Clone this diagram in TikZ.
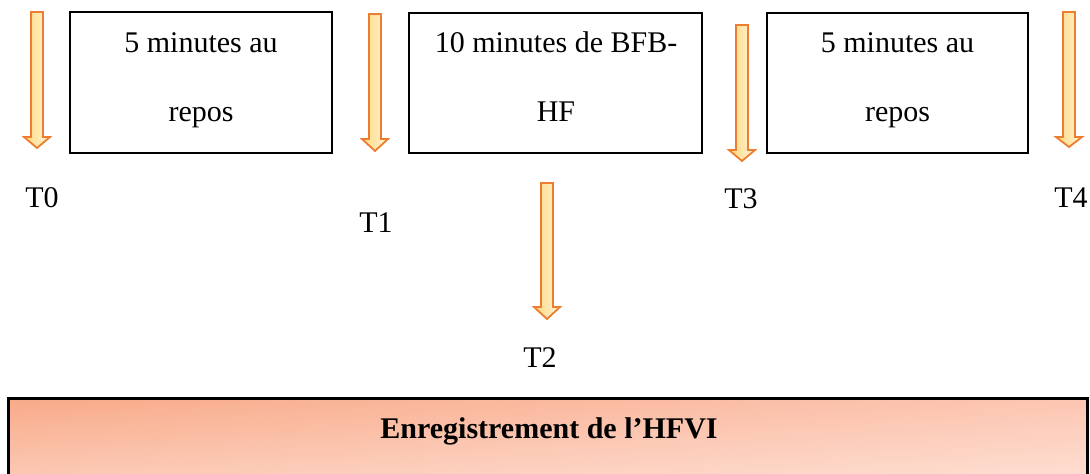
\documentclass[tikz,border=0pt]{standalone}
\usepackage{fontspec}
\setmainfont{Liberation Serif}
\usetikzlibrary{shadings}
\definecolor{arrowline}{HTML}{ED7D31}
\definecolor{arrowleft}{HTML}{FFD97F}
\definecolor{arrowright}{HTML}{FFF3D6}
\definecolor{recUL}{HTML}{F8AA88}
\definecolor{recUR}{HTML}{FCC6B2}
\definecolor{recLL}{HTML}{FCCEBC}
\definecolor{recLR}{HTML}{FEE2D7}
\begin{document}
\begin{tikzpicture}[x=1pt,y=-1pt,
  periodbox/.style={draw=black,line width=2pt,fill=white},
  linetxt/.style={anchor=base,inner sep=0pt,font=\fontsize{30}{36}\selectfont},
  tlabel/.style={anchor=base,inner sep=0pt,font=\fontsize{30}{36}\selectfont},
  blockarrow/.style={draw=arrowline,line width=1.8pt,line join=miter,
    left color=arrowleft,right color=arrowright}]
\useasboundingbox (0,0) rectangle (1090,474);
\clip (0,0) rectangle (1090,474);
% bottom recording box
\shade[upper left=recUL,upper right=recUR,lower left=recLL,lower right=recLR]
  (8,398) rectangle (1087,490);
\draw[line width=3pt] (8,398) rectangle (1087,490);
\node[anchor=base,inner sep=0pt,font=\fontsize{30}{36}\selectfont\bfseries] (rec) at (549,438) {Enregistrement de l’HFVI};
% period boxes
\draw[periodbox] (70,12) rectangle (332,153);
\node[linetxt] (b1a) at (201,52) {5 minutes au};
\node[linetxt] (b1b) at (201,121) {repos};
\draw[periodbox] (409,13) rectangle (702,153);
\node[linetxt] (b2a) at (556,52) {10 minutes de BFB-};
\node[linetxt] (b2b) at (556,121) {HF};
\draw[periodbox] (767,13) rectangle (1028,153);
\node[linetxt] (b3a) at (897.5,52) {5 minutes au};
\node[linetxt] (b3b) at (897.5,121) {repos};
% block arrows: #1 centre x, #2 top, #3 head base, #4 tip
\newcommand\tarrow[4]{%
  \draw[blockarrow] (#1-6,#2) -- (#1+6,#2) -- (#1+6,#3) -- (#1+13,#3) -- (#1,#4)
    -- (#1-13,#3) -- (#1-6,#3) -- cycle;}
\tarrow{37}{12}{137}{148}
\tarrow{375}{14}{139}{151}
\tarrow{547}{183}{307}{319}
\tarrow{742}{25}{150}{161}
\tarrow{1069}{12}{137}{147}
% time labels
\node[tlabel] (t0) at (42,207) {T0};
\node[tlabel] (t1) at (376,232) {T1};
\node[tlabel] (t2) at (540,367) {T2};
\node[tlabel] (t3) at (741,208) {T3};
\node[tlabel] (t4) at (1071,207) {T4};
\end{tikzpicture}
\end{document}
